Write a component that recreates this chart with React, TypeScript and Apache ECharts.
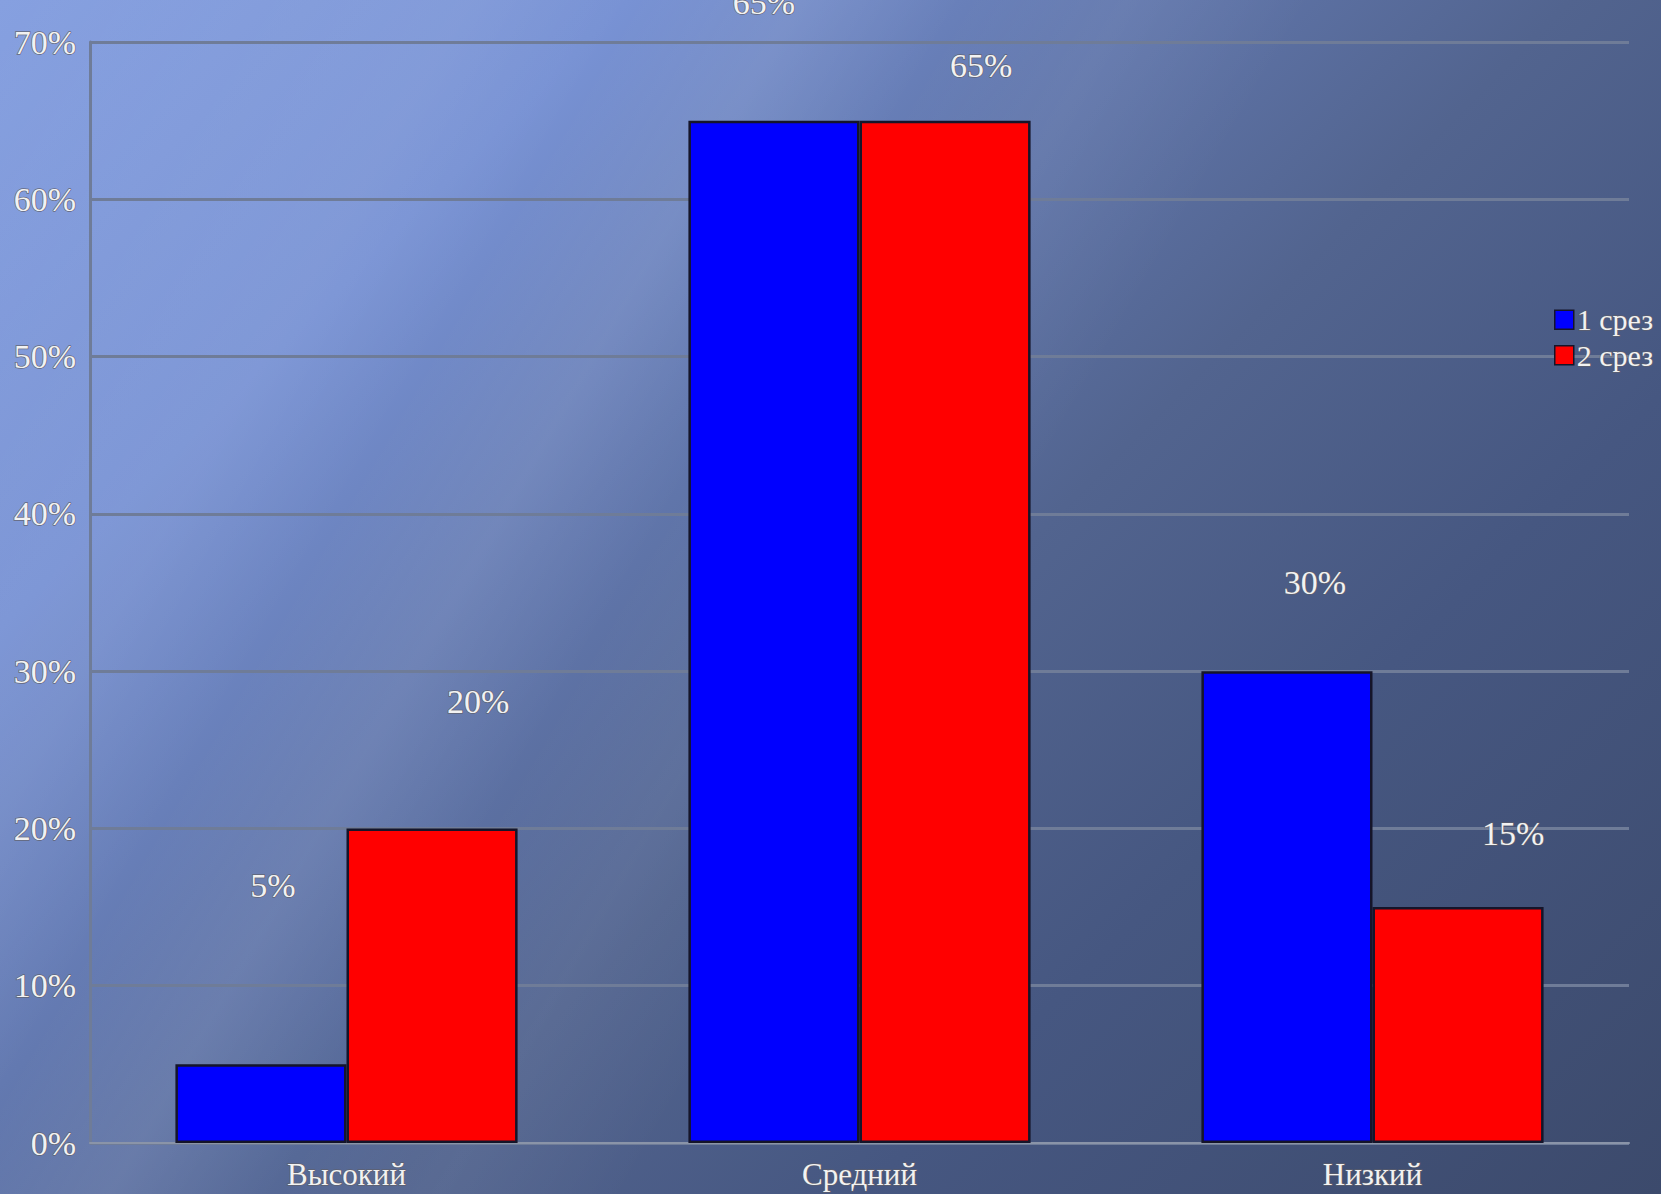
import React, { useEffect, useRef } from "react";
import * as echarts from "echarts";

const categories = ["Высокий", "Средний", "Низкий"];
const seriesNames = ["1 срез", "2 срез"];
const slice1 = [5, 65, 30];
const slice2 = [20, 65, 15];
const yTicks = [0, 10, 20, 30, 40, 50, 60, 70];

// label offsets (px) reproducing the reference's label placement
const labelOffsets1: [number, number][] = [[12, -162], [-10, -101], [28, -72]];
const labelOffsets2: [number, number][] = [[46, -110], [36, -38], [55, -57]];

const FONT = "Liberation Serif";

export default function App() {
  const ref = useRef<HTMLDivElement>(null);
  useEffect(() => {
    document.body.style.margin = "0";
    const chart = echarts.init(ref.current!, null, { renderer: "svg" });
    const textStyle = {
      color: "#f2f2f2",
      fontFamily: FONT,
      textBorderColor: "rgba(95,95,105,0.85)",
      textBorderWidth: 1.5,
    };
    const mkData = (vals: number[], offs: [number, number][]) =>
      vals.map((v, i) => ({ value: v, label: { offset: offs[i] } }));
    const barStyle = (color: string) => ({
      color,
      borderColor: "#15152a",
      borderWidth: 2.5,
    });
    chart.setOption({
      animation: false,
      backgroundColor: "transparent",
      grid: { left: 90, right: 32, top: 42, bottom: 51, containLabel: false },
      legend: {
        orient: "vertical",
        left: 1549,
        top: 299,
        itemWidth: 19,
        itemHeight: 19,
        itemGap: 4,
        icon: "rect",
        data: seriesNames,
        textStyle: { ...textStyle, fontSize: 30, padding: [0, 0, 0, -2] },
        itemStyle: { borderColor: "#15152a", borderWidth: 1.5 },
      },
      xAxis: {
        type: "category",
        data: categories,
        axisLine: { show: true, lineStyle: { color: "#8a94a8", width: 2 } },
        axisTick: { show: false },
        axisLabel: { ...textStyle, fontSize: 31, margin: 16 },
        splitLine: { show: false },
      },
      yAxis: {
        type: "value",
        min: yTicks[0],
        max: yTicks[yTicks.length - 1],
        interval: 10,
        axisLine: { show: true, lineStyle: { color: "#6f7c98", width: 3 } },
        axisTick: { show: false },
        axisLabel: { ...textStyle, fontSize: 34, margin: 14, formatter: "{value}%" },
        splitLine: { show: true, lineStyle: { color: "#6f7c98", width: 3 } },
      },
      series: [
        {
          name: seriesNames[0],
          type: "bar",
          data: mkData(slice1, labelOffsets1),
          barGap: "0%",
          barCategoryGap: "33.3%",
          itemStyle: barStyle("#0000ff"),
          label: {
            show: true,
            position: "top",
            distance: 0,
            formatter: "{c}%",
            ...textStyle,
            fontSize: 34,
          },
        },
        {
          name: seriesNames[1],
          type: "bar",
          data: mkData(slice2, labelOffsets2),
          barGap: "0%",
          barCategoryGap: "33.3%",
          itemStyle: barStyle("#ff0000"),
          label: {
            show: true,
            position: "top",
            distance: 0,
            formatter: "{c}%",
            ...textStyle,
            fontSize: 34,
          },
        },
      ],
    });
    return () => chart.dispose();
  }, []);
  return (
    <div
      style={{
        width: 1661,
        height: 1194,
        overflow: "hidden",
        background:
          "linear-gradient(120deg, rgba(255,255,255,0) 0%, rgba(255,255,255,0.06) 20%, rgba(255,255,255,0) 27%, rgba(255,255,255,0.08) 34%, rgba(255,255,255,0) 41%, rgba(255,255,255,0.05) 48%, rgba(255,255,255,0) 56%), linear-gradient(135deg, #86a0e0 0%, #7892d4 22%, #6379b0 38%, #52648f 55%, #465781 72%, #3c4a6c 100%)",
      }}
    >
      <div ref={ref} style={{ width: 1661, height: 1194 }} />
    </div>
  );
}
